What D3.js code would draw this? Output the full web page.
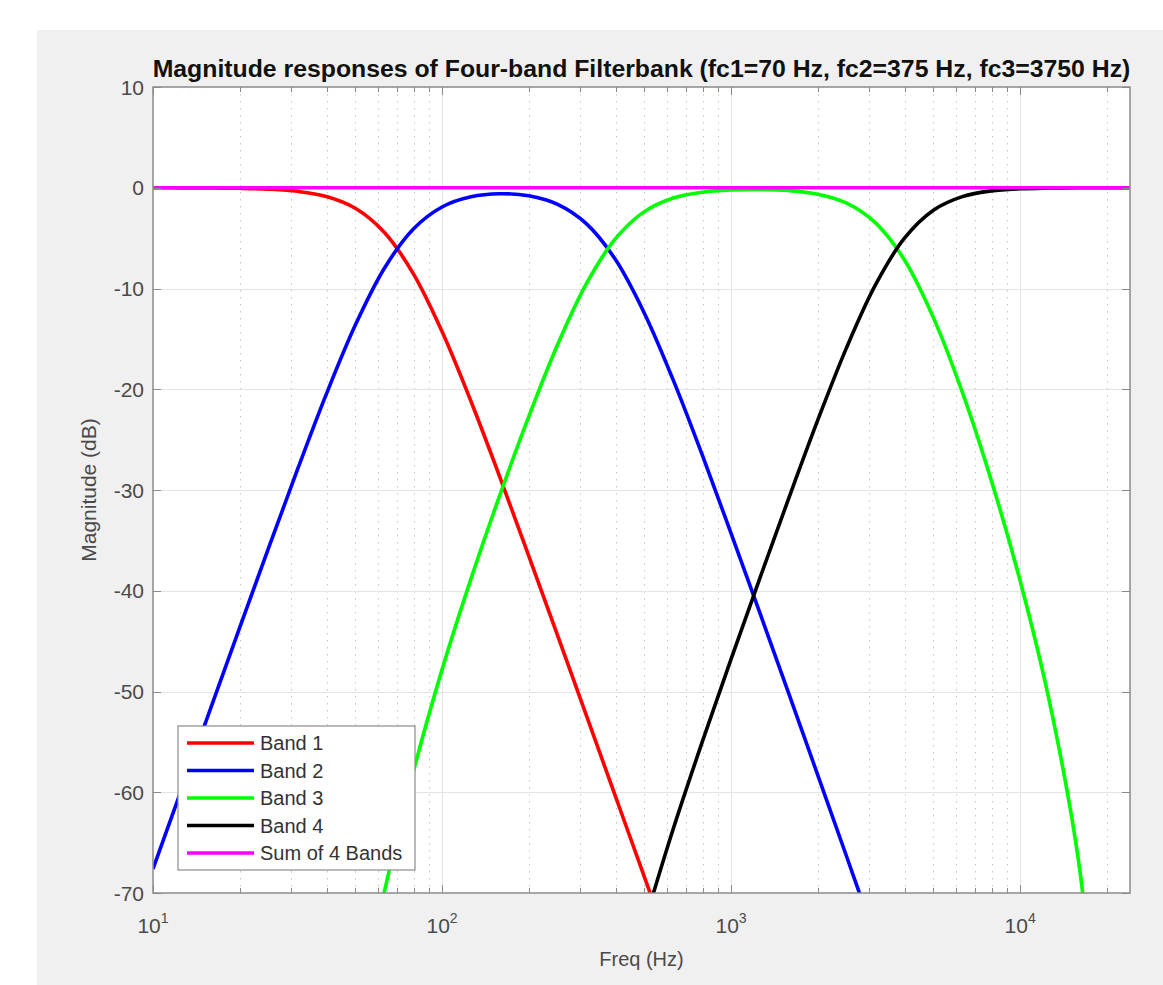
<!DOCTYPE html>
<html>
<head>
<meta charset="utf-8">
<script src="https://cdn.jsdelivr.net/npm/d3@7"></script>
<style>
  html, body { margin: 0; padding: 0; background: #ffffff; }
  svg { display: block; font-family: "Liberation Sans", Arial, Helvetica, sans-serif; }
</style>
</head>
<body>
<div id="chart"></div>
<script>
// Frequency grid (Hz) the curves were read at
const freqHz = [10, 12.59, 15.85, 19.95, 25.12, 31.62, 39.81, 50.12, 63.1, 79.43,
  100, 125.9, 158.5, 199.5, 251.2, 316.2, 398.1, 501.2, 631, 794.3,
  1000, 1259, 1585, 1995, 2512, 3162, 3981, 5012, 6310, 7943,
  10000, 12589, 15849, 19953, 24000];

// Magnitudes (dB) per band, null where the band is off the chart
const band1Db = [-0.004, -0.009, -0.023, -0.057, -0.143, -0.355, -0.865, -2.03, -4.41, -8.50,
  -14.27, -21.19, -28.72, -36.53, -44.45, -52.42, -60.41, -68.40, -76.40, -84.40,
  null, null, null, null, null, null, null, null, null, null,
  null, null, null, null, null];
const band2Db = [-67.60, -59.61, -51.62, -43.66, -35.74, -27.96, -20.46, -13.63, -8.01, -4.11,
  -1.91, -0.90, -0.60, -0.80, -1.65, -3.58, -7.13, -12.45, -19.10, -26.50,
  -34.30, -42.23, -50.23, -58.29, -66.40, -74.57, null, null, null, null,
  null, null, null, null, null];
const band3Db = [null, null, null, null, null, null, null, -83.55, -69.94, -58.04,
  -47.83, -38.82, -30.51, -22.72, -15.56, -9.50, -5.05, -2.37, -1.02, -0.44,
  -0.21, -0.17, -0.28, -0.64, -1.53, -3.49, -7.17, -12.89, -20.29, -29.02,
  -39.00, -50.81, -66.39, -93.43, null];
const band4Db = [null, null, null, null, null, null, null, null, null, null,
  null, null, null, null, null, null, null, -73.0, -63.63, -55.03,
  -46.79, -38.72, -30.78, -23.07, -15.84, -9.62, -5.00, -2.23, -0.88, -0.31,
  -0.10, -0.03, -0.004, 0, 0];
const sumDb = [0, 0, 0, 0, 0, 0, 0, 0, 0, 0,
  0, 0, 0, 0, 0, 0, 0, 0, 0, 0,
  0, 0, 0, 0, 0, 0, 0, 0, 0, 0,
  0, 0, 0, 0, 0];

const seriesLabels = ['Band 1', 'Band 2', 'Band 3', 'Band 4', 'Sum of 4 Bands'];
const seriesColors = ['#ff0000', '#0000ff', '#00ff00', '#000000', '#ff00ff'];

const xDomain = [10, 24000];
const yDomain = [-70, 10];
const xMajorTicks = [10, 100, 1000, 10000];
const yTicks = [10, 0, -10, -20, -30, -40, -50, -60, -70];

const titleText = 'Magnitude responses of Four-band Filterbank (fc1=70 Hz, fc2=375 Hz, fc3=3750 Hz)';
const xLabel = 'Freq (Hz)';
const yLabel = 'Magnitude (dB)';

// Page and plot box
const width = 1163;
const height = 985;
const box = { left: 153, top: 87, right: 1130, bottom: 893 };
const axisColor = '#8a8a8a';
const textColor = '#4a4a4a';

const svg = d3.select('#chart')
  .append('svg')
  .attr('width', width)
  .attr('height', height);

svg.append('rect')
  .attr('width', width)
  .attr('height', height)
  .attr('fill', '#ffffff');

// Figure background
svg.append('rect')
  .attr('x', 37)
  .attr('y', 30)
  .attr('width', width - 37)
  .attr('height', height - 30)
  .attr('fill', '#f0f0f0');

const x = d3.scaleLog().domain(xDomain).range([box.left, box.right]);
const y = d3.scaleLinear().domain(yDomain).range([box.bottom, box.top]);

// Plot area
svg.append('rect')
  .attr('x', box.left)
  .attr('y', box.top)
  .attr('width', box.right - box.left)
  .attr('height', box.bottom - box.top)
  .attr('fill', '#ffffff');

const minorTicks = x.ticks().filter(t => !xMajorTicks.includes(t));

// Grid
const grid = svg.append('g').attr('class', 'grid');

grid.selectAll('line.minor')
  .data(minorTicks)
  .enter()
  .append('line')
  .attr('class', 'minor')
  .attr('x1', d => Math.round(x(d)) + 0.5)
  .attr('x2', d => Math.round(x(d)) + 0.5)
  .attr('y1', box.top)
  .attr('y2', box.bottom)
  .attr('stroke', '#c4c4c4')
  .attr('stroke-width', 1)
  .attr('stroke-dasharray', '1.5,5.5');

grid.selectAll('line.xmajor')
  .data(xMajorTicks.slice(1))
  .enter()
  .append('line')
  .attr('class', 'xmajor')
  .attr('x1', d => Math.round(x(d)) + 0.5)
  .attr('x2', d => Math.round(x(d)) + 0.5)
  .attr('y1', box.top)
  .attr('y2', box.bottom)
  .attr('stroke', '#e4e4e4')
  .attr('stroke-width', 1);

grid.selectAll('line.ymajor')
  .data(yTicks.slice(1, -1))
  .enter()
  .append('line')
  .attr('class', 'ymajor')
  .attr('x1', box.left)
  .attr('x2', box.right)
  .attr('y1', d => Math.round(y(d)) + 0.5)
  .attr('y2', d => Math.round(y(d)) + 0.5)
  .attr('stroke', '#e4e4e4')
  .attr('stroke-width', 1);

// Curves
svg.append('clipPath')
  .attr('id', 'plot-clip')
  .append('rect')
  .attr('x', box.left)
  .attr('y', box.top)
  .attr('width', box.right - box.left)
  .attr('height', box.bottom - box.top);

const series = [band1Db, band2Db, band3Db, band4Db, sumDb].map((vals, i) => ({
  label: seriesLabels[i],
  color: seriesColors[i],
  points: freqHz.map((f, j) => [f, vals[j]])
}));

const line = d3.line()
  .defined(d => d[1] !== null)
  .x(d => x(d[0]))
  .y(d => y(d[1]))
  .curve(d3.curveCatmullRom.alpha(0.5));

svg.append('g')
  .attr('clip-path', 'url(#plot-clip)')
  .selectAll('path')
  .data(series)
  .enter()
  .append('path')
  .attr('d', d => line(d.points))
  .attr('fill', 'none')
  .attr('stroke', d => d.color)
  .attr('stroke-width', 3.6)
  .attr('stroke-linejoin', 'round');

// Axis box and tick marks (inside, on all four sides)
const axes = svg.append('g').attr('class', 'axes');

axes.append('rect')
  .attr('x', box.left)
  .attr('y', box.top)
  .attr('width', box.right - box.left)
  .attr('height', box.bottom - box.top)
  .attr('fill', 'none')
  .attr('stroke', axisColor)
  .attr('stroke-width', 1.5);

const xTickMarks = xMajorTicks.map(t => ({ v: t, len: 8 }))
  .concat(minorTicks.map(t => ({ v: t, len: 5 })));

xTickMarks.forEach(t => {
  const px = Math.round(x(t.v)) + 0.5;
  axes.append('line')
    .attr('x1', px).attr('x2', px)
    .attr('y1', box.bottom).attr('y2', box.bottom - t.len)
    .attr('stroke', axisColor);
  axes.append('line')
    .attr('x1', px).attr('x2', px)
    .attr('y1', box.top).attr('y2', box.top + t.len)
    .attr('stroke', axisColor);
});

yTicks.forEach(t => {
  const py = Math.round(y(t)) + 0.5;
  axes.append('line')
    .attr('x1', box.left).attr('x2', box.left + 8)
    .attr('y1', py).attr('y2', py)
    .attr('stroke', axisColor);
  axes.append('line')
    .attr('x1', box.right).attr('x2', box.right - 8)
    .attr('y1', py).attr('y2', py)
    .attr('stroke', axisColor);
});

// Tick labels
svg.append('g')
  .selectAll('text')
  .data(yTicks)
  .enter()
  .append('text')
  .attr('x', box.left - 9)
  .attr('y', d => y(d))
  .attr('dy', '0.36em')
  .attr('text-anchor', 'end')
  .attr('fill', textColor)
  .style('font-size', '21px')
  .text(d => d);

const xLabels = svg.append('g')
  .selectAll('text')
  .data(xMajorTicks)
  .enter()
  .append('text')
  .attr('x', d => x(d))
  .attr('y', 933)
  .attr('text-anchor', 'middle')
  .attr('fill', textColor)
  .style('font-size', '21px');

xLabels.append('tspan').text('10');
xLabels.append('tspan')
  .attr('dy', -10)
  .style('font-size', '14px')
  .text(d => Math.round(Math.log10(d)));

// Axis titles
svg.append('text')
  .attr('x', (box.left + box.right) / 2)
  .attr('y', 966)
  .attr('text-anchor', 'middle')
  .attr('fill', textColor)
  .style('font-size', '20px')
  .text(xLabel);

svg.append('text')
  .attr('transform', `translate(96, ${(box.top + box.bottom) / 2}) rotate(-90)`)
  .attr('text-anchor', 'middle')
  .attr('fill', textColor)
  .style('font-size', '21px')
  .text(yLabel);

// Title, fitted to the plot width like the reference
const title = svg.append('text')
  .attr('x', (box.left + box.right) / 2)
  .attr('y', 77)
  .attr('text-anchor', 'middle')
  .attr('fill', '#111111')
  .style('font-size', '20px')
  .style('font-weight', 'bold')
  .text(titleText);

const titleWidth = title.node().getComputedTextLength();
title.style('font-size', (20 * 978 / titleWidth).toFixed(2) + 'px');

// Legend
const legend = svg.append('g')
  .attr('class', 'legend')
  .attr('transform', 'translate(178, 726)');

legend.append('rect')
  .attr('width', 237)
  .attr('height', 144)
  .attr('fill', '#ffffff')
  .attr('stroke', '#8a8a8a')
  .attr('stroke-width', 1.2);

series.forEach((s, i) => {
  const g = legend.append('g')
    .attr('transform', `translate(0, ${17 + i * 27.5})`);

  g.append('line')
    .attr('x1', 9)
    .attr('x2', 76)
    .attr('y1', 0)
    .attr('y2', 0)
    .attr('stroke', s.color)
    .attr('stroke-width', 3.6);

  g.append('text')
    .attr('x', 82)
    .attr('y', 0)
    .attr('dy', '0.36em')
    .attr('fill', '#333333')
    .style('font-size', '20px')
    .text(s.label);
});
</script>
</body>
</html>
